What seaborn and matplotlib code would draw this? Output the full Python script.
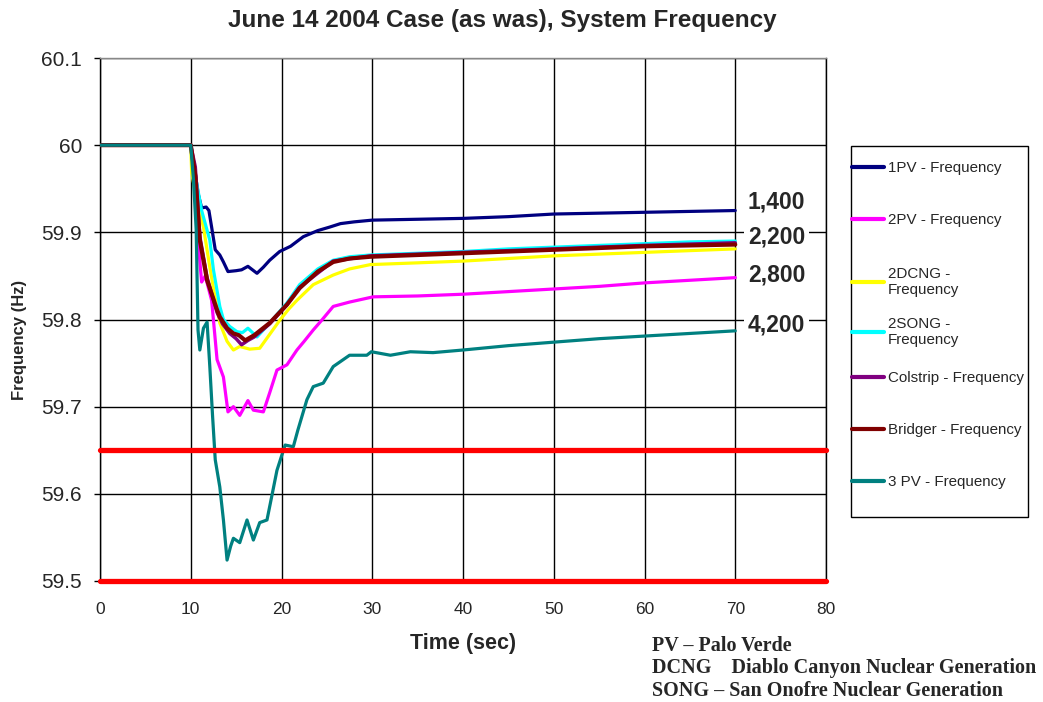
import matplotlib
matplotlib.use("Agg")
import matplotlib.pyplot as plt
from matplotlib.patches import Rectangle
from matplotlib.ticker import FuncFormatter
import seaborn as sns
import pandas as pd

# --- Data ---
t_1pv = [0, 10, 10.4, 10.8, 11.2, 11.7, 12.0, 12.3, 12.7, 13.2, 13.6, 14.1, 15.0, 15.6, 16.3, 17.3, 18.0,
         18.7, 19.8, 21.0, 22.4, 24.0, 25.3, 26.5, 28, 30, 35, 40, 45, 50, 55, 60, 65, 70]
f_1pv = [60, 60, 59.975, 59.945, 59.928, 59.929, 59.925, 59.906, 59.880, 59.874, 59.866, 59.855, 59.856,
         59.857, 59.861, 59.853, 59.860, 59.868, 59.878, 59.884, 59.895, 59.902, 59.906, 59.910, 59.912,
         59.914, 59.915, 59.916, 59.918, 59.921, 59.922, 59.923, 59.924, 59.925]

t_2pv = [0, 10, 10.4, 10.8, 11.2, 11.6, 12.3, 12.9, 13.6, 14.1, 14.7, 15.4, 16.3, 16.9, 18.0, 18.7, 19.5,
         20.6, 21.7, 22.5, 23.5, 24.5, 25.7, 27.5, 30.1, 35, 40, 45, 50, 55, 60, 65, 70]
f_2pv = [60, 60, 59.955, 59.891, 59.843, 59.850, 59.822, 59.754, 59.734, 59.694, 59.700, 59.690, 59.707,
         59.696, 59.694, 59.716, 59.742, 59.748, 59.765, 59.775, 59.788, 59.800, 59.815, 59.820, 59.826,
         59.827, 59.829, 59.832, 59.835, 59.838, 59.842, 59.845, 59.848]

t_2dcng = [0, 10, 10.1, 10.7, 11.4, 12.1, 12.6, 13.2, 14.0, 14.7, 15.4, 16.5, 17.6, 18.7, 19.8, 20.8, 21.7,
           22.0, 23.5, 25.7, 27.5, 29.8, 35, 40, 45, 50, 55, 60, 65, 70]
f_2dcng = [60, 60, 59.968, 59.935, 59.906, 59.860, 59.830, 59.796, 59.775, 59.765, 59.769, 59.766, 59.767,
           59.783, 59.799, 59.812, 59.822, 59.825, 59.840, 59.851, 59.858, 59.863, 59.865, 59.867, 59.870,
           59.873, 59.875, 59.877, 59.879, 59.881]

t_2song = [0, 10, 10.5, 11.2, 12.1, 12.5, 13.2, 13.6, 14.3, 15.1, 15.7, 16.3, 17.3, 18.7, 20.6, 22.0, 24.0,
           25.7, 27.5, 29.8, 35, 40, 45, 50, 55, 60, 65, 70]
f_2song = [60, 60, 59.965, 59.925, 59.891, 59.857, 59.815, 59.800, 59.792, 59.786, 59.785, 59.790, 59.780,
           59.796, 59.819, 59.840, 59.858, 59.868, 59.872, 59.874, 59.876, 59.878, 59.881, 59.883, 59.885,
           59.887, 59.889, 59.890]

t_colstrip = [0, 10, 10.5, 11.0, 11.8, 12.9, 13.5, 14.3, 15.0, 15.6, 16.3, 17.0, 18.7, 20.6, 22.0, 25.7,
              29.8, 35, 40, 50, 60, 70]
f_colstrip = [60, 60, 59.975, 59.895, 59.848, 59.808, 59.795, 59.784, 59.778, 59.771, 59.776, 59.780,
              59.795, 59.817, 59.837, 59.867, 59.873, 59.875, 59.877, 59.881, 59.885, 59.888]

t_bridger = [0, 10, 10.5, 11.0, 11.8, 12.9, 13.2, 14.0, 14.7, 15.3, 16.0, 17.0, 18.7, 20.6, 22.0, 24.0,
             25.7, 27.5, 29.8, 35, 40, 45, 50, 55, 60, 65, 70]
f_bridger = [60, 60, 59.965, 59.891, 59.845, 59.811, 59.803, 59.790, 59.784, 59.782, 59.776, 59.782, 59.796,
             59.817, 59.836, 59.855, 59.866, 59.870, 59.872, 59.874, 59.876, 59.878, 59.880, 59.882, 59.884,
             59.885, 59.886]

t_3pv = [0, 10, 10.3, 10.6, 10.8, 11.0, 11.4, 11.8, 12.1, 12.4, 12.7, 13.2, 13.6, 14.0, 14.4, 14.7, 15.4,
         16.2, 16.9, 17.6, 18.4, 19.0, 19.5, 20.4, 21.3, 21.8, 22.8, 23.5, 24.6, 25.7, 27.5, 29.4, 29.9, 32,
         34.2, 36.7, 40, 45, 50, 55, 60, 65, 70]
f_3pv = [60, 60, 59.96, 59.903, 59.788, 59.765, 59.790, 59.797, 59.746, 59.690, 59.639, 59.608, 59.570,
         59.524, 59.540, 59.549, 59.544, 59.570, 59.547, 59.567, 59.570, 59.601, 59.627, 59.656, 59.654,
         59.673, 59.708, 59.723, 59.727, 59.746, 59.759, 59.759, 59.763, 59.759, 59.763, 59.762, 59.765,
         59.770, 59.774, 59.778, 59.781, 59.784, 59.787]

series_labels = ["1PV - Frequency", "2PV - Frequency", "2DCNG -\nFrequency", "2SONG -\nFrequency",
                 "Colstrip - Frequency", "Bridger - Frequency", "3 PV - Frequency"]
series_times = [t_1pv, t_2pv, t_2dcng, t_2song, t_colstrip, t_bridger, t_3pv]
series_freqs = [f_1pv, f_2pv, f_2dcng, f_2song, f_colstrip, f_bridger, f_3pv]
series_colors = ["#000080", "#FF00FF", "#FFFF00", "#00FFFF", "#800080", "#800000", "#008080"]
series_widths = [2.3, 2.3, 2.3, 2.3, 2.5, 3.0, 2.3]

limit_levels = [59.65, 59.5]

end_labels = ["1,400", "2,200", "2,800", "4,200"]
end_label_y = [59.935, 59.895, 59.851, 59.794]
end_label_x = 71.4

notes = ["PV \u2013 Palo Verde",
         "DCNG    Diablo Canyon Nuclear Generation",
         "SONG \u2013 San Onofre Nuclear Generation"]

# legend entry tops (pixels from the top of the figure), Excel spaces them unevenly
legend_tops = [161, 213, 267, 317, 371, 423, 475]

# --- Styling ---
sns.set_style("white")
plt.rcParams['font.family'] = ['Liberation Sans', 'DejaVu Sans']

fig = plt.figure(figsize=(10.43, 7.02), dpi=100)
ax = fig.add_axes([100 / 1043, 121 / 702, 726 / 1043, 523 / 702])

for lab, ts, fs, col, lw in zip(series_labels, series_times, series_freqs, series_colors, series_widths):
    df = pd.DataFrame({'Time': ts, 'Freq': fs})
    sns.lineplot(data=df, x='Time', y='Freq', color=col, linewidth=lw, label=lab,
                 sort=False, estimator=None, ax=ax, zorder=3)

for lvl in limit_levels:
    ax.axhline(lvl, color='#FF0000', linewidth=3.8, zorder=4, clip_on=False)

ax.set_xlim(0, 80)
ax.set_ylim(59.5, 60.1)
ax.set_xticks(range(0, 81, 10))
ax.set_yticks([59.5, 59.6, 59.7, 59.8, 59.9, 60.0, 60.1])
ax.yaxis.set_major_formatter(FuncFormatter(lambda v, p: f"{round(v, 1):g}"))
ax.grid(True, color='black', linewidth=1.0)
ax.set_axisbelow(True)
for s in ax.spines.values():
    s.set_color('black')
    s.set_linewidth(1.0)
ax.spines['top'].set_color('#888888')

ax.tick_params(axis='y', labelsize=15, length=4, width=1, color='black', direction='out', left=True, pad=9)
ax.tick_params(axis='x', labelsize=12.5, length=0, pad=15)

fig.text(502 / 1043, 1 - 20 / 702, 'June 14 2004 Case (as was), System Frequency',
         fontsize=17.5, fontweight='bold', ha='center', va='center')
ax.set_xlabel('Time (sec)', fontsize=15.5, fontweight='bold', labelpad=12)
ax.set_ylabel('Frequency (Hz)', fontsize=12, fontweight='bold')
ax.yaxis.set_label_coords(-0.1, 0.461)

for lab, yv in zip(end_labels, end_label_y):
    ax.text(end_label_x, yv, lab, fontsize=16.5, fontweight='bold', va='center', ha='left', zorder=5,
            bbox=dict(facecolor='white', edgecolor='none', pad=3))

# legend: one small legend per entry inside a separately drawn box
handles, labels = ax.get_legend_handles_labels()
ax.get_legend().remove()
for h, lab, top in zip(handles, labels, legend_tops):
    leg = fig.legend([h], [lab], loc='upper left', bbox_to_anchor=(852 / 1043, 1 - top / 702),
                     frameon=False, fontsize=10.9, borderpad=0, borderaxespad=0,
                     handlelength=2.1, handletextpad=0.25)
    for ln in leg.get_lines():
        ln.set_linewidth(3.0)
fig.patches.append(Rectangle((851 / 1043, (702 - 517) / 702), 177 / 1043, 371 / 702,
                             transform=fig.transFigure, facecolor='none', edgecolor='black', linewidth=1.0))

for i, note in enumerate(notes):
    fig.text(652 / 1043, 1 - (646 + 22.5 * i) / 702, note, fontsize=14.5, fontweight='bold',
             family=['Liberation Serif', 'DejaVu Serif'], va='center', ha='left')

fig.savefig('out.png', dpi=100, facecolor='white')
